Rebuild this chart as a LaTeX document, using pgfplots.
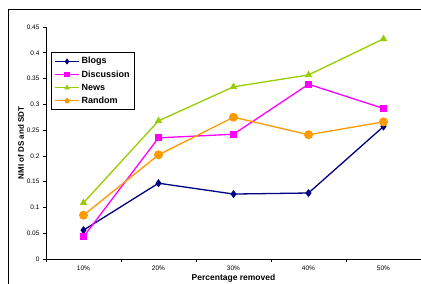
\documentclass[border=0pt]{standalone}
\usepackage{pgfplots}
\pgfplotsset{compat=1.18}
\usepackage{fontspec}
\setmainfont{Liberation Sans}
\definecolor{cblogs}{RGB}{0,0,128}
\definecolor{cdisc}{RGB}{255,0,255}
\definecolor{cnews}{RGB}{153,204,0}
\definecolor{crand}{RGB}{255,153,0}
\begin{document}
\begin{tikzpicture}[x=1pt,y=1pt]
\path[use as bounding box] (0,0) rectangle (421,284);
\draw[black, line width=0.8pt] (8,-10) -- (8,275) -- (440,275);
\begin{axis}[
  at={(46pt,25pt)}, anchor=south west,
  scale only axis, width=375pt, height=232pt,
  xmin=0.5, xmax=5.5, ymin=0, ymax=0.45,
  axis x line*=bottom, axis y line*=left,
  axis line style={line width=0.8pt, -},
  xtick={1,2,3,4,5},
  xticklabels={10\%,20\%,30\%,40\%,50\%},
  minor xtick={0.5,1.5,2.5,3.5,4.5,5.5},
  major x tick style={draw=none},
  minor tick length=3pt, major tick length=3pt,
  tick align=outside,
  tick style={black, line width=0.6pt},
  ytick={0,0.05,...,0.45},
  yticklabels={0,0.05,0.1,0.15,0.2,0.25,0.3,0.35,0.4,0.45},
  ticklabel style={font=\fontsize{6.5}{7}\selectfont},
  /pgf/number format/assume math mode=true,
  xlabel={Percentage removed},
  ylabel={NMI of DS and SDT},
  xlabel style={font=\fontsize{8.5}{9}\selectfont\bfseries, yshift=3pt},
  ylabel style={font=\fontsize{8}{9}\selectfont\bfseries, yshift=-4pt},
  legend style={at={(axis description cs:0.0133,0.892)}, anchor=north west, draw=black, line width=0.8pt,
     font=\fontsize{9}{10}\selectfont\bfseries, row sep=1.2pt, inner xsep=3pt, inner ysep=3pt,
     legend cell align=left},
  legend image code/.code={\draw[#1] (0pt,0pt) -- (24pt,0pt); \draw[#1, mark repeat=2, mark phase=2, mark size=2pt] plot coordinates {(0pt,0pt) (12pt,0pt) (24pt,0pt)};},
  clip=false,
]
\addplot[cblogs, line width=1.3pt, mark=diamond*, mark size=3pt, mark options={fill=cblogs}]
  coordinates {(1,0.056) (2,0.147) (3,0.126) (4,0.128) (5,0.257)};
\addlegendentry{Blogs}
\addplot[cdisc, line width=1.3pt, mark=square*, mark size=2.8pt, mark options={fill=cdisc}]
  coordinates {(1,0.043) (2,0.235) (3,0.242) (4,0.339) (5,0.292)};
\addlegendentry{Discussion}
\addplot[cnews, line width=1.3pt, mark=triangle*, mark size=3pt, mark options={fill=cnews}]
  coordinates {(1,0.109) (2,0.268) (3,0.334) (4,0.357) (5,0.427)};
\addlegendentry{News}
\addplot[crand, line width=1.3pt, mark=*, mark size=3.8pt, mark options={fill=crand}]
  coordinates {(1,0.085) (2,0.202) (3,0.275) (4,0.241) (5,0.266)};
\addlegendentry{Random}
\end{axis}
\end{tikzpicture}
\end{document}
